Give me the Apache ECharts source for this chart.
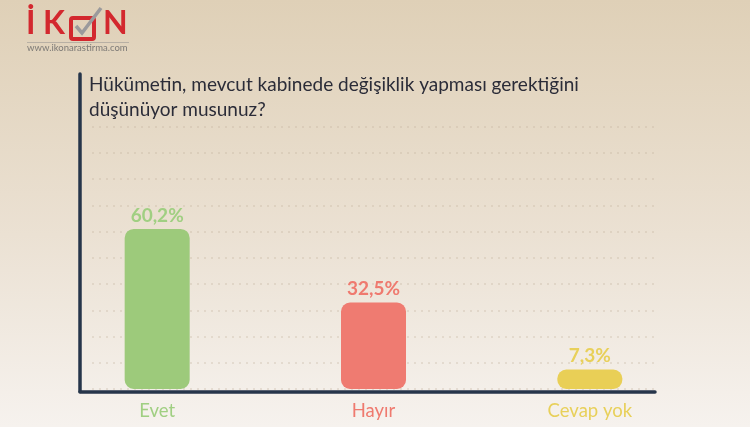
<!DOCTYPE html>
<html>
<head>
<meta charset="utf-8">
<script src="https://cdn.jsdelivr.net/npm/echarts@6/dist/echarts.min.js"></script>
<style>
  html, body { margin: 0; padding: 0; }
  #chart { width: 750px; height: 427px; }
</style>
</head>
<body>
<div id="chart"></div>
<script>
// Survey question and answers
const questionText = 'Hükümetin, mevcut kabinede değişiklik yapması gerektiğini\ndüşünüyor musunuz?';
const categories = ['Evet', 'Hayır', 'Cevap yok'];
const shares = [60.2, 32.5, 7.3];
const barColors = ['#9dca7b', '#ef7b71', '#e9cf56'];
const labelColors = ['#a0cf82', '#ef7a6f', '#e8d05a'];

const axisColor = '#26354a';
const FONT = 'Lato, "Open Sans", sans-serif';

const chart = echarts.init(document.getElementById('chart'), null, { renderer: 'canvas' });

const option = {
  animation: false,
  backgroundColor: {
    type: 'linear', x: 0, y: 0, x2: 0, y2: 1,
    colorStops: [
      { offset: 0, color: '#dfd0b7' },
      { offset: 0.55, color: '#ebe1d3' },
      { offset: 1, color: '#f6f2ee' }
    ]
  },
  title: {
    text: questionText,
    left: 84,
    top: 67,
    textStyle: {
      fontFamily: FONT,
      fontSize: 19,
      fontWeight: 'normal',
      lineHeight: 25,
      color: '#2b2c38'
    }
  },
  grid: [
    // frame lines
    { left: 80, right: 95, top: 74, bottom: 35.5 },
    // dotted guide lines
    { left: 92, right: 95, top: 126.5, bottom: 38 },
    // bars
    { left: 49, right: 52, top: 70, bottom: 38 }
  ],
  xAxis: [
    {
      gridIndex: 0, type: 'value', min: 0, max: 1,
      axisLine: { show: true, lineStyle: { color: axisColor, width: 3.5, cap: 'round' } },
      axisTick: { show: false }, axisLabel: { show: false }, splitLine: { show: false }
    },
    {
      gridIndex: 1, type: 'value', min: 0, max: 1,
      axisLine: { show: false }, axisTick: { show: false }, axisLabel: { show: false }, splitLine: { show: false }
    },
    {
      gridIndex: 2, type: 'category', data: categories,
      axisLine: { show: false }, axisTick: { show: false },
      axisLabel: {
        margin: 13,
        fontFamily: FONT,
        fontSize: 18.5,
        color: function (value, idx) { return labelColors[idx]; }
      },
      splitLine: { show: false }
    }
  ],
  yAxis: [
    {
      gridIndex: 0, type: 'value', min: 0, max: 1,
      axisLine: { show: true, lineStyle: { color: axisColor, width: 3.5, cap: 'round' } },
      axisTick: { show: false }, axisLabel: { show: false }, splitLine: { show: false }
    },
    {
      gridIndex: 1, type: 'value', min: 0, max: 100, interval: 10,
      axisLine: { show: false }, axisTick: { show: false }, axisLabel: { show: false },
      splitLine: {
        show: true,
        lineStyle: { color: 'rgba(190,172,150,0.28)', width: 2, type: [2, 5] }
      }
    },
    {
      gridIndex: 2, type: 'value', min: 0, max: 120,
      axisLine: { show: false }, axisTick: { show: false }, axisLabel: { show: false }, splitLine: { show: false }
    }
  ],
  graphic: [
    // İKON wordmark
    { type: 'text', left: 26, top: 8, style: { text: 'İ', fontFamily: FONT, fontSize: 32, fontWeight: 'bold', fill: '#d3282e' } },
    { type: 'text', left: 43, top: 8, style: { text: 'K', fontFamily: FONT, fontSize: 32, fontWeight: 'bold', fill: '#d3282e' } },
    { type: 'rect', shape: { x: 71, y: 18, width: 23, height: 21, r: 2 }, style: { fill: 'none', stroke: '#d3282e', lineWidth: 4 } },
    { type: 'polyline', shape: { points: [[76, 26], [82, 33], [101, 8]] }, style: { fill: 'none', stroke: '#9a9a9c', lineWidth: 3.5 } },
    { type: 'text', left: 103, top: 8, style: { text: 'N', fontFamily: FONT, fontSize: 32, fontWeight: 'bold', fill: '#d3282e' } },
    { type: 'rect', shape: { x: 27, y: 42, width: 102, height: 1 }, style: { fill: '#b8b0a4' } },
    { type: 'text', left: 27, top: 43, style: { text: 'www.ikonarastirma.com', fontFamily: FONT, fontSize: 9.5, fill: '#7d7a76' } }
  ],
  series: [
    {
      type: 'bar',
      xAxisIndex: 2, yAxisIndex: 2,
      barWidth: 65,
      data: shares.map(function (v, i) {
        return {
          value: v,
          itemStyle: { color: barColors[i], borderRadius: 9 },
          label: { color: labelColors[i] }
        };
      }),
      label: {
        show: true,
        position: 'top',
        distance: 4,
        fontFamily: FONT,
        fontSize: 19,
        fontWeight: 'bold',
        formatter: function (p) { return String(p.value).replace('.', ',') + '%'; }
      }
    }
  ]
};

chart.setOption(option);
</script>
</body>
</html>
